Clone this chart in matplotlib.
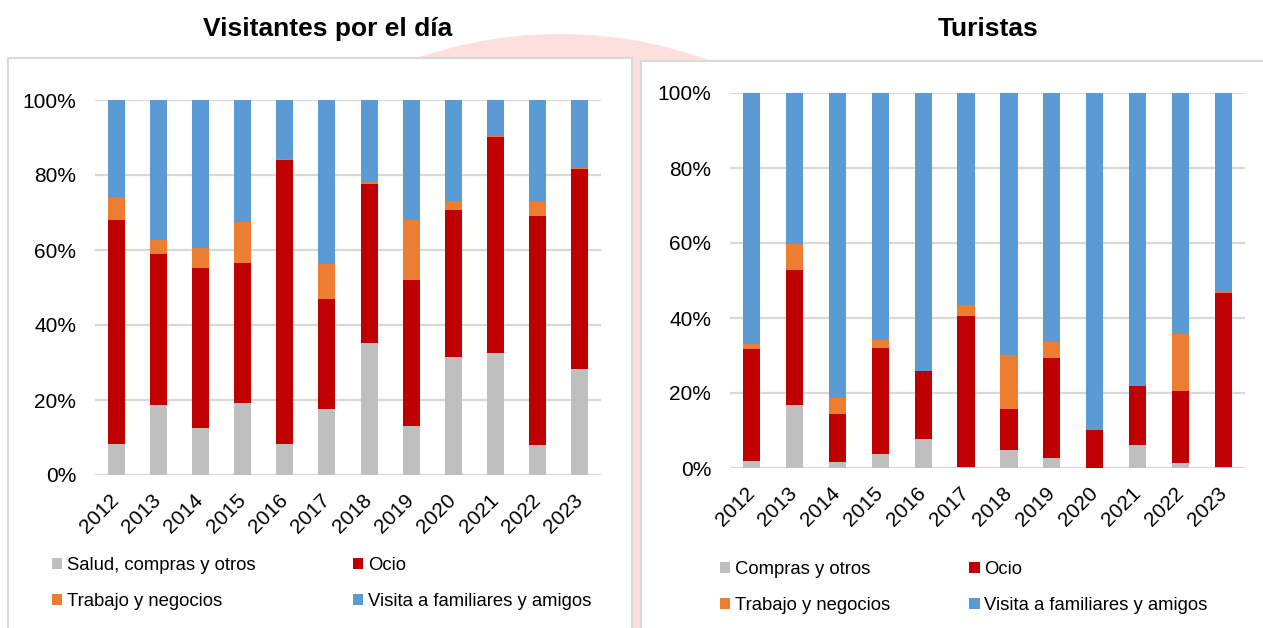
import matplotlib.pyplot as plt
import numpy as np
from matplotlib.patches import Rectangle, Ellipse
from matplotlib.ticker import FuncFormatter

plt.rcParams['font.family'] = ['Liberation Sans', 'DejaVu Sans']

years = ['2012', '2013', '2014', '2015', '2016', '2017', '2018', '2019', '2020', '2021', '2022', '2023']

# Visitantes por el dia (% of total)
vd_salud = [8.4, 18.7, 12.5, 19.3, 8.2, 17.6, 35.3, 13.1, 31.4, 32.5, 8.0, 28.2]
vd_ocio = [59.5, 40.2, 42.7, 37.2, 75.8, 29.4, 42.3, 38.8, 39.4, 57.7, 61.1, 53.5]
vd_trabajo = [6.2, 3.9, 5.4, 10.9, 0.3, 9.2, 0.6, 16.1, 2.4, 0.1, 3.7, 0.2]
vd_visita = [25.9, 37.2, 39.4, 32.6, 15.7, 43.8, 21.8, 32.0, 26.8, 9.7, 27.2, 18.1]

# Turistas (% of total)
tu_compras = [1.9, 16.7, 1.6, 3.7, 7.7, 0.4, 4.9, 2.8, 0.0, 6.1, 1.3, 0.3]
tu_ocio = [29.8, 36.2, 12.8, 28.4, 18.1, 40.1, 10.8, 26.6, 10.1, 15.7, 19.3, 46.4]
tu_trabajo = [1.4, 6.8, 4.2, 2.1, 0.2, 2.9, 14.5, 4.1, 0.0, 0.1, 15.1, 0.2]
tu_visita = [66.9, 40.3, 81.4, 65.8, 74.0, 56.6, 69.8, 66.5, 89.9, 78.1, 64.3, 53.1]

c_gray = '#bfbfbf'
c_red = '#c00000'
c_orange = '#ed7d31'
c_blue = '#5b9bd5'
c_grid = '#d9d9d9'

W, H = 1263, 628
fig = plt.figure(figsize=(W / 100, H / 100), dpi=100)

# faint pink watermark behind the panels
fig.patches.append(Ellipse((560 / W, 1 - 471 / H), 2 * 437 / W, 2 * 437 / H,
                           transform=fig.transFigure, facecolor='#fde0dd',
                           edgecolor='none', zorder=0))
# panel frames
fig.patches.append(Rectangle((8 / W, -0.01), (632 - 8) / W, 1 - 58 / H + 0.01,
                             transform=fig.transFigure, facecolor='white',
                             edgecolor=c_grid, linewidth=1.5, zorder=1))
fig.patches.append(Rectangle((641 / W, -0.01), (W + 5 - 641) / W, 1 - 61 / H + 0.01,
                             transform=fig.transFigure, facecolor='white',
                             edgecolor=c_grid, linewidth=1.5, zorder=1))


def draw_panel(rect, s1, s2, s3, s4, lab1, title, title_x, leg_pos, colspace):
    ax = fig.add_axes(rect)
    ax.set_zorder(3)
    ax.set_facecolor('none')
    x = np.arange(len(years))
    s1 = np.array(s1)
    s2 = np.array(s2)
    s3 = np.array(s3)
    s4 = np.array(s4)
    w = 0.4
    b1 = ax.bar(x, s1, w, color=c_gray, zorder=3)
    b2 = ax.bar(x, s2, w, bottom=s1, color=c_red, zorder=3)
    b3 = ax.bar(x, s3, w, bottom=s1 + s2, color=c_orange, zorder=3)
    b4 = ax.bar(x, s4, w, bottom=s1 + s2 + s3, color=c_blue, zorder=3)

    ax.set_xlim(-0.5, len(years) - 0.5)
    ax.set_ylim(0, 100)
    ax.set_yticks([0, 20, 40, 60, 80, 100])
    ax.yaxis.set_major_formatter(FuncFormatter(lambda v, p: f'{v:.0f}%'))
    ax.grid(axis='y', color=c_grid, linewidth=1.6, zorder=0)
    for sp in ax.spines.values():
        sp.set_visible(False)
    ax.tick_params(axis='both', length=0, labelsize=15, colors='black')
    ax.tick_params(axis='y', pad=13.5)
    ax.set_xticks(x)
    ax.set_xticklabels(years, rotation=45, ha='right', va='center',
                       rotation_mode='anchor', fontsize=15)
    ax.tick_params(axis='x', pad=16)

    fig.text(title_x / W, 1 - 29 / H, title, ha='center', va='center',
             fontsize=19, fontweight='bold')

    leg = fig.legend([b1, b3, b2, b4],
                     [lab1, 'Trabajo y negocios', 'Ocio', 'Visita a familiares y amigos'],
                     ncol=2, loc='upper left',
                     bbox_to_anchor=(leg_pos[0] / W, 1 - leg_pos[1] / H),
                     frameon=False, fontsize=13.3, handlelength=0.55, handleheight=0.55,
                     handletextpad=0.25, columnspacing=colspace, labelspacing=1.05,
                     borderpad=0, borderaxespad=0)
    leg.set_zorder(3)
    return ax


draw_panel([95 / W, 153 / H, 506 / W, 375 / H],
           vd_salud, vd_ocio, vd_trabajo, vd_visita,
           'Salud, compras y otros', 'Visitantes por el día', 328,
           (52, 557), 5.3)
draw_panel([730 / W, 160 / H, 515 / W, 375 / H],
           tu_compras, tu_ocio, tu_trabajo, tu_visita,
           'Compras y otros', 'Turistas', 988,
           (720, 561), 4.3)

fig.savefig('out.png', dpi=100)
